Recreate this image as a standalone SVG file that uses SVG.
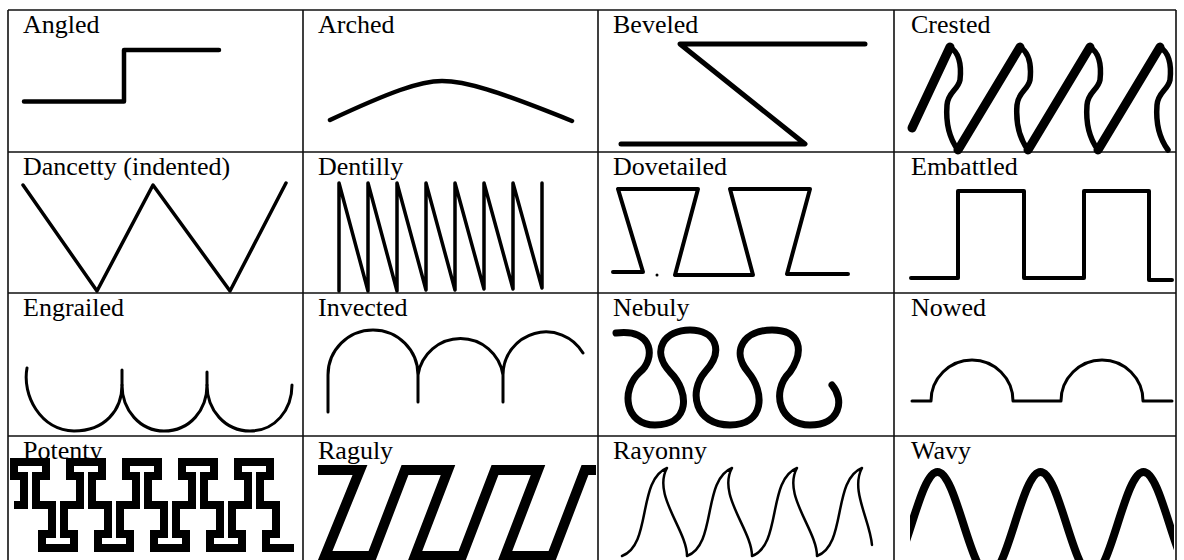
<svg xmlns="http://www.w3.org/2000/svg" width="1184" height="560" viewBox="0 0 1184 560">
<style>
.lbl{font-family:"Liberation Serif","Times New Roman",serif;font-size:26px;fill:#000}
.grid{stroke:#111;stroke-width:1.6;fill:none}
.ln{fill:none;stroke:#000;stroke-linecap:round;stroke-linejoin:round}
.sq{fill:none;stroke:#000;stroke-linecap:butt;stroke-linejoin:miter}
</style>
<defs>
<clipPath id="cw"><rect x="910" y="440" width="264" height="120"/></clipPath>
</defs>
<rect width="1184" height="560" fill="#fff"/>
<g id="grid">
<path class="grid" d="M8,10H1176M8,152H1176M8,293H1176M8,436H1176M8,10V560M303,10V560M598,10V560M894,10V560M1176,10V560"/>
</g>
<g id="angled"><text class="lbl" x="23" y="33">Angled</text>
<path class="ln" stroke-width="4.5" d="M24,101.5H124V50H219"/></g>
<g id="arched"><text class="lbl" x="318" y="33">Arched</text>
<path class="ln" stroke-width="4.5" d="M330,120C390,92 420,81 442,81C465,81 495,90 572,121"/></g>
<g id="beveled"><text class="lbl" x="613" y="33">Beveled</text>
<path class="ln" stroke-width="5" d="M865,44H680L805,144H621"/></g>
<g id="crested"><text class="lbl" x="911" y="33">Crested</text>
<g class="ln" stroke-width="9">
<path d="M912,128L950,47"/><path d="M958,150L1020,47"/><path d="M1028,150L1090,47"/><path d="M1098,150L1160,47"/>
</g>
<g class="ln" stroke-width="5.5">
<path d="M950,47C958,52 962,62 960,80C958,90 948,92 947,105C946,118 947,135 958,150"/>
<path d="M1020,47C1028,52 1032,62 1030,80C1028,90 1018,92 1017,105C1016,118 1017,135 1028,150"/>
<path d="M1090,47C1098,52 1102,62 1100,80C1098,90 1088,92 1087,105C1086,118 1087,135 1098,150"/>
<path d="M1160,47C1168,52 1172,62 1170,80C1168,90 1158,92 1157,105C1156,118 1157,135 1168,150"/>
</g></g>
<g id="dancetty"><text class="lbl" x="23" y="175">Dancetty (indented)</text>
<path class="ln" stroke-width="3.5" stroke-linecap="butt" d="M23,185L97,291L153,185L230,291L286,183"/></g>
<g id="dentilly"><text class="lbl" x="318" y="175">Dentilly</text>
<path class="ln" stroke-width="3.5" d="M339,291V183L368,291V183L397,291V183L426,290V183L455,290V183L484,289V183L513,289V183L542,288V183"/></g>
<g id="dovetailed"><text class="lbl" x="613" y="175">Dovetailed</text>
<path class="ln" stroke-width="4" d="M613,272H643L618,189H698L675,275H753L730,189H810L787,274H848"/>
<circle cx="657" cy="275" r="1.5"/></g>
<g id="embattled"><text class="lbl" x="911" y="175">Embattled</text>
<path class="ln" stroke-width="4" stroke-linecap="butt" d="M911,278H958V191H1024V278H1084V191H1149V280H1172"/></g>
<g id="engrailed"><text class="lbl" x="23" y="316">Engrailed</text>
<path class="ln" stroke-width="3" d="M27,368C22,395 40,430 74,431C105,431 122,410 122,385C122,410 140,431 164,431C190,431 207,410 207,385C207,410 225,431 250,431C275,431 292,410 292,385"/>
<path class="ln" stroke-width="3" d="M122,385V370M207,385V372"/></g>
<g id="invected"><text class="lbl" x="318" y="316">Invected</text>
<path class="ln" stroke-width="3" d="M328,412V375A45,45 0 0 1 418,375A43,43 0 0 1 503,375A43,43 0 0 1 583,353M418,375V402M503,375V402"/></g>
<g id="nebuly"><text class="lbl" x="613" y="316">Nebuly</text>
<path class="ln" stroke-width="7" d="M616,333C655,328 655,360 640,372C620,390 625,425 655,425C690,425 690,392 670,372C650,350 665,330 690,330C715,330 725,350 705,372C688,392 695,425 730,425C765,425 765,392 748,372C730,350 745,330 772,330C800,330 805,350 790,372C770,392 780,425 810,425C840,425 845,400 832,385"/></g>
<g id="nowed"><text class="lbl" x="911" y="316">Nowed</text>
<path class="ln" stroke-width="3" d="M912,401H931A41,41 0 0 1 1013,401H1061A41,41 0 0 1 1143,401H1172"/></g>
<g id="potenty"><text class="lbl" x="23" y="459">Potenty</text>
<path class="sq" stroke-width="8" d="M14,505H24V476H14V462H46V476H36V505H52V534H42V548H74V534H64V505H70H80V476H70V462H102V476H92V505H108V534H98V548H130V534H120V505H126H136V476H126V462H158V476H148V505H164V534H154V548H186V534H176V505H182H192V476H182V462H214V476H204V505H220V534H210V548H242V534H232V505H238H248V476H238V462H270V476H260V505H276V534H266V548H294"/></g>
<g id="raguly"><text class="lbl" x="318" y="459">Raguly</text>
<path class="sq" stroke-width="10" d="M318,470H360L325,556H372L405,470H448L415,556H462L495,470H538L505,556H552L585,470H596"/></g>
<g id="rayonny"><text class="lbl" x="613" y="459">Rayonny</text>
<path class="ln" stroke-width="2.5" d="M622,556C652,545 637,480 667,468C652,495 687,530 687,556C717,545 702,480 732,468C717,495 752,530 752,556C782,545 767,480 797,468C782,495 817,530 817,556C847,545 832,480 862,468C850,490 870,520 872,545"/></g>
<g id="wavy"><text class="lbl" x="911" y="459">Wavy</text>
<path class="ln" stroke-width="8" clip-path="url(#cw)" d="M886,575C904.8,575 918.7,472 937.5,472C956.3,472 970.2,575 989,575C1007.8,575 1021.7,472 1040.5,472C1059.3,472 1073.2,575 1092,575C1110.8,575 1124.7,472 1143.5,472C1162.3,472 1176.2,575 1195,575"/></g>
</svg>
